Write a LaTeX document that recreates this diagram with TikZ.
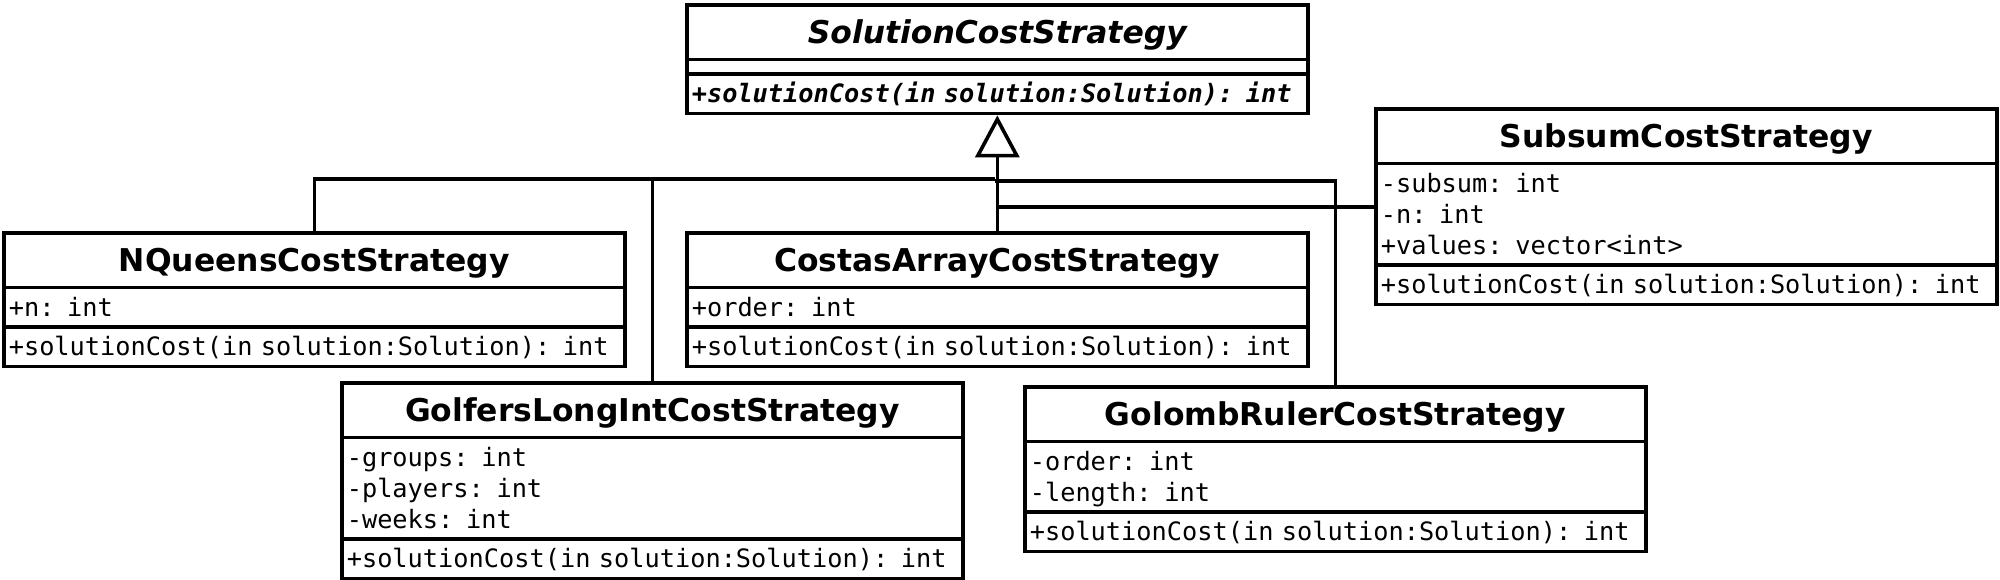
\documentclass[tikz,border=0pt]{standalone}
\usepackage{fontspec}
\setmainfont{DejaVu Sans}
\setmonofont[WordSpace={1,0,0}]{DejaVu Sans Mono}
\usetikzlibrary{shapes.multipart,arrows.meta}
\setlength{\parindent}{0pt}

\newcommand{\titlefont}{\rmfamily\fontsize{15.7pt}{18pt}\selectfont\bfseries}
\newcommand{\memberfont}{\ttfamily\fontsize{12.65pt}{15.5pt}\selectfont
    \spaceskip=0.602em\relax\xspaceskip=0.602em\relax}
\newcommand{\titlestrut}{\rule[-6pt]{0pt}{23pt}}
\newcommand{\memberstrut}{\rule[-3.25pt]{0pt}{15.5pt}}
\newcommand{\classname}[1]{\hbox to\hsize{\hfil\titlefont\titlestrut #1\hfil}}

\tikzset{
  umlclass/.style={draw, line width=1.8pt, rectangle split, rectangle split parts=3,
    text width=305.5pt, inner xsep=2.5pt, inner ysep=1.25pt, anchor=north west,
    align=left, font=\memberfont},
  inherit/.style={line width=1.8pt},
}

\begin{document}
\begin{tikzpicture}[x=0.5pt, y=-0.5pt]
    \useasboundingbox (0,0) rectangle (2000,579);

    \node[umlclass] (sol) at (685,3) {\classname{\itshape SolutionCostStrategy}
        \nodepart{two}\rule{0pt}{3pt}
        \nodepart{three}\bfseries\itshape\memberstrut+solutionCost(in solution:Solution): int};

    \node[umlclass] (nqueens) at (2,231) {\classname{NQueensCostStrategy}
        \nodepart{two}\memberstrut+n: int
        \nodepart{three}\memberstrut+solutionCost(in solution:Solution): int};
    \node[umlclass] (costas) at (685,231) {\classname{CostasArrayCostStrategy}
        \nodepart{two}\memberstrut+order: int
        \nodepart{three}\memberstrut+solutionCost(in solution:Solution): int};
    \node[umlclass] (subsum) at (1374,107) {\classname{SubsumCostStrategy}
        \nodepart{two}\memberstrut-subsum: int\\\memberstrut-n: int\\\memberstrut+values: vector<int>
        \nodepart{three}\memberstrut+solutionCost(in solution:Solution): int};
    \node[umlclass] (golfers) at (340,381) {\classname{GolfersLongIntCostStrategy}
        \nodepart{two}\memberstrut-groups: int\\\memberstrut-players: int\\\memberstrut-weeks: int
        \nodepart{three}\memberstrut+solutionCost(in solution:Solution): int};
    \node[umlclass] (golomb) at (1023,385) {\classname{GolombRulerCostStrategy}
        \nodepart{two}\memberstrut-order: int\\\memberstrut-length: int
        \nodepart{three}\memberstrut+solutionCost(in solution:Solution): int};

    % junctions on the trunk
    \coordinate (hubL) at (995,179);
    \coordinate (hubR) at (995,181);

    \draw[inherit, -{Triangle[open,length=21pt,width=22pt]}] (costas.north) -- (sol.south);
    \draw[inherit] (nqueens.north) |- (hubL);
    \draw[inherit] (golfers.north) -- (golfers.north |- hubL);
    \draw[inherit] (golomb.north) |- (hubR);
    \draw[inherit] (subsum.west) -- (subsum.west -| costas.north);
\end{tikzpicture}
\end{document}
